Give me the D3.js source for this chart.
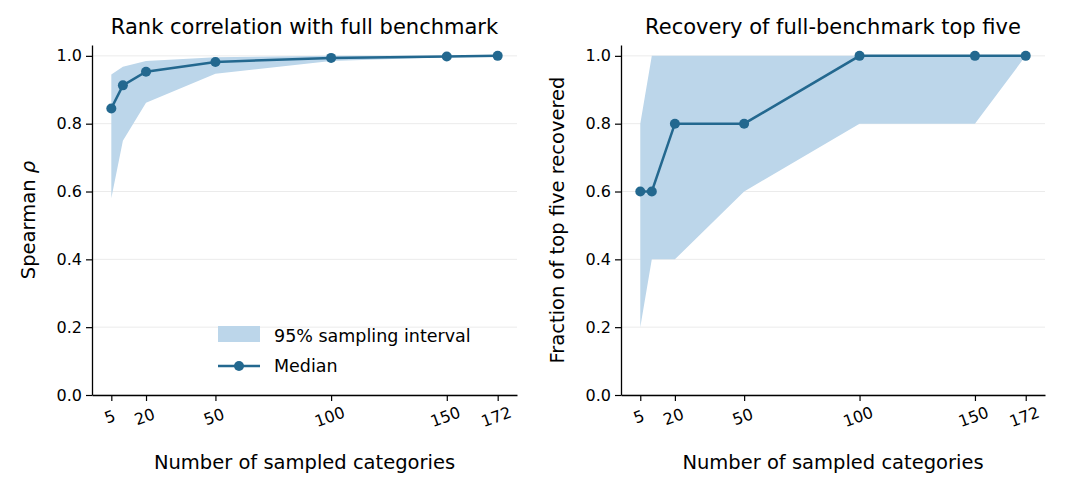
<!DOCTYPE html>
<html><head><meta charset="utf-8">
<script src="https://cdn.jsdelivr.net/npm/d3@7"></script>
<style>body{margin:0;background:#fff}svg, svg text{font-family:"DejaVu Sans",sans-serif}</style>
</head><body>
<svg id="chart" width="1080" height="488"></svg>
<script>
var sizes = [5, 10, 20, 50, 100, 150, 172];
var xTicks = [5, 20, 50, 100, 150, 172];
var yTicks = [0, 0.2, 0.4, 0.6, 0.8, 1.0];

var rhoMedian = [0.845, 0.913, 0.953, 0.982, 0.994, 0.998, 1.0];
var rhoLow = [0.58, 0.75, 0.862, 0.947, 0.985, 0.996, 1.0];
var rhoHigh = [0.945, 0.968, 0.985, 0.996, 1.0, 1.0, 1.0];

var topMedian = [0.6, 0.6, 0.8, 0.8, 1.0, 1.0, 1.0];
var topLow = [0.2, 0.4, 0.4, 0.6, 0.8, 0.8, 1.0];
var topHigh = [0.8, 1.0, 1.0, 1.0, 1.0, 1.0, 1.0];

var lineColor = "#23688f", fillColor = "#bcd6ea";
var svg = d3.select("#chart");

function panel(left, right, title, ylabel, med, lo, hi, legend) {
    var top = 45, bottom = 395;
    var x = d3.scaleLinear().domain([-3.35, 180.35]).range([left, right]);
    var y = d3.scaleLinear().domain([0, 1.032]).range([bottom, top]);
    var g = svg.append("g");

    g.selectAll("line.grid").data(yTicks).enter().append("line")
        .attr("x1", left).attr("x2", right)
        .attr("y1", function (d) { return y(d); }).attr("y2", function (d) { return y(d); })
        .attr("stroke", "#ebebeb").attr("stroke-width", 1);

    var area = d3.area()
        .x(function (d, i) { return x(sizes[i]); })
        .y0(function (d, i) { return y(lo[i]); })
        .y1(function (d, i) { return y(hi[i]); });
    g.append("path").datum(sizes).attr("d", area).attr("fill", fillColor);

    var line = d3.line()
        .x(function (d, i) { return x(sizes[i]); })
        .y(function (d) { return y(d); });
    g.append("path").datum(med).attr("d", line)
        .attr("fill", "none").attr("stroke", lineColor).attr("stroke-width", 2.5);
    g.selectAll("circle").data(med).enter().append("circle")
        .attr("cx", function (d, i) { return x(sizes[i]); })
        .attr("cy", function (d) { return y(d); })
        .attr("r", 5).attr("fill", lineColor);

    var xa = g.append("g").attr("transform", "translate(0," + bottom + ")")
        .call(d3.axisBottom(x).tickValues(xTicks).tickSize(6).tickSizeOuter(0).tickFormat(d3.format("d")));
    xa.attr("font-family", "DejaVu Sans").attr("font-size", 16);
    xa.selectAll("text").attr("fill", "#000").attr("dy", null)
        .attr("text-anchor", "middle").attr("y", 0)
        .attr("transform", "translate(0,27) rotate(-20)");
    var ya = g.append("g").attr("transform", "translate(" + left + ",0)")
        .call(d3.axisLeft(y).tickValues(yTicks).tickSize(6).tickSizeOuter(0).tickFormat(d3.format(".1f")));
    ya.attr("font-family", "DejaVu Sans").attr("font-size", 16);
    ya.selectAll("text").attr("fill", "#000").attr("x", -10);
    g.selectAll(".domain").attr("stroke", "#000").attr("stroke-width", 1.3);
    g.selectAll(".tick line").attr("stroke", "#000").attr("stroke-width", 1.2);

    g.append("text").attr("x", (left + right) / 2).attr("y", 34)
        .attr("text-anchor", "middle").attr("font-size", 21).text(title);
    g.append("text").attr("x", (left + right) / 2).attr("y", 469)
        .attr("text-anchor", "middle").attr("font-size", 19.5).text("Number of sampled categories");
    g.append("text").attr("transform", "translate(" + (left - 57) + "," + ((top + bottom) / 2) + ") rotate(-90)")
        .attr("text-anchor", "middle").attr("font-size", 19.5).html(ylabel);

    if (legend) {
        g.append("rect").attr("x", 218).attr("y", 326).attr("width", 42).attr("height", 16).attr("fill", fillColor);
        g.append("text").attr("x", 274).attr("y", 342).attr("font-size", 17.5).text("95% sampling interval");
        g.append("line").attr("x1", 218).attr("x2", 260).attr("y1", 366).attr("y2", 366)
            .attr("stroke", lineColor).attr("stroke-width", 2.5);
        g.append("circle").attr("cx", 239).attr("cy", 366).attr("r", 5).attr("fill", lineColor);
        g.append("text").attr("x", 274).attr("y", 372).attr("font-size", 17.5).text("Median");
    }
}

panel(92, 517, "Rank correlation with full benchmark", "Spearman <tspan font-style='italic'>ρ</tspan>",
    rhoMedian, rhoLow, rhoHigh, true);
panel(621, 1045, "Recovery of full-benchmark top five", "Fraction of top five recovered",
    topMedian, topLow, topHigh, false);
</script>
</body></html>
